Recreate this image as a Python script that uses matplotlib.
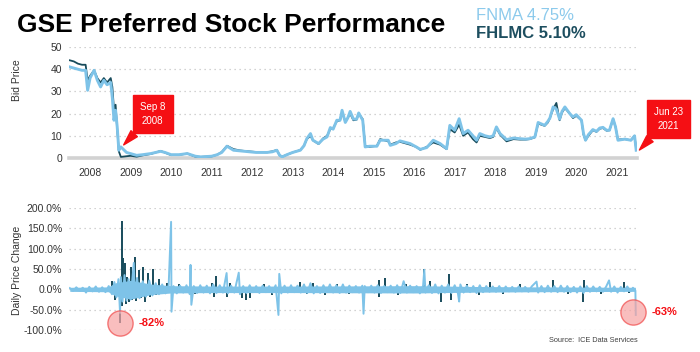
import matplotlib.pyplot as plt
from matplotlib.ticker import FuncFormatter

plt.rcParams['font.family'] = ['Liberation Sans', 'DejaVu Sans']

LIGHT = '#7ec3e8'
DARK = '#174b5b'
RED = '#f50f14'
GRID = '#c4c4c4'

# ---- bid price (decimal year, price) ----
price_t = [2007.50, 2007.60, 2007.70, 2007.80, 2007.89, 2007.94, 2008.00, 2008.10,
           2008.18, 2008.26, 2008.34, 2008.42, 2008.51, 2008.55, 2008.59, 2008.63,
           2008.67, 2008.71, 2008.76, 2008.90, 2009.00, 2009.15, 2009.30, 2009.50,
           2009.74, 2009.85, 2010.00, 2010.20, 2010.40, 2010.60, 2010.73, 2011.00,
           2011.14, 2011.25, 2011.38, 2011.54, 2011.70, 2011.90, 2012.10, 2012.37,
           2012.50, 2012.61, 2012.68, 2012.74, 2012.86, 2013.00, 2013.19, 2013.28,
           2013.35, 2013.44, 2013.50, 2013.64, 2013.75, 2013.85, 2013.93, 2014.00,
           2014.09, 2014.17, 2014.22, 2014.30, 2014.36, 2014.42, 2014.50, 2014.58,
           2014.63, 2014.73, 2014.79, 2014.90, 2015.08, 2015.16, 2015.36, 2015.41,
           2015.55, 2015.65, 2015.90, 2016.05, 2016.15, 2016.31, 2016.47, 2016.64,
           2016.80, 2016.88, 2017.00, 2017.11, 2017.21, 2017.33, 2017.45, 2017.54,
           2017.62, 2017.75, 2017.87, 2017.95, 2018.03, 2018.12, 2018.28, 2018.45,
           2018.61, 2018.75, 2018.85, 2018.98, 2019.06, 2019.22, 2019.30, 2019.35,
           2019.43, 2019.51, 2019.59, 2019.65, 2019.72, 2019.84, 2019.92, 2020.00,
           2020.13, 2020.18, 2020.23, 2020.30, 2020.41, 2020.50, 2020.58, 2020.66,
           2020.75, 2020.82, 2020.91, 2020.97, 2021.03, 2021.20, 2021.35, 2021.44,
           2021.48]
fnma_price = [41, 40.5, 40, 39.5, 39.5, 30.5, 36, 39.5,
              35, 32, 35, 33, 34, 27, 17, 21.5,
              14, 3.5, 5, 2.5, 2, 1.2, 1.5, 2,
              3, 2.5, 1.5, 1.5, 2, 0.8, 0.5, 0.8,
              1.5, 2.5, 5.3, 3.5, 3.2, 2.8, 2.5, 2.5,
              2.8, 3.5, 1.2, 0.5, 1.5, 2.5, 3.5, 5.5,
              8.7, 11, 8, 6.5, 8.5, 9.5, 13.7, 13,
              17, 17, 21.5, 16, 18, 21, 17.5, 17.5,
              20.3, 17, 5, 5.3, 5.3, 8, 8, 5.7,
              6.5, 7.7, 6.5, 5, 3.9, 4.7, 8, 6.5,
              4.2, 14.7, 12.5, 17.7, 11, 12.5, 10, 8,
              11, 10, 9.5, 10, 14, 11, 8.3, 9,
              8.7, 8.5, 8.7, 9.5, 16, 14.7, 16.5, 18,
              23, 22, 17.5, 21, 23, 20, 18.5, 19.5,
              17, 11, 8, 10.5, 12.8, 12, 13.5, 13.8,
              12.5, 12.5, 17.7, 14, 8, 8.5, 8, 10,
              3.5]
fhlmc_price = [44, 43.5, 42.5, 42, 42, 35, 37, 39.5,
               36, 34, 36, 34, 36, 32, 22, 24,
               13, 3, 0.5, 0.8, 1, 0.6, 1.2, 1.8,
               3.2, 2.4, 1.3, 1.4, 2, 0.6, 0.5, 0.7,
               1.5, 2.7, 5.5, 4, 3.4, 3, 2.7, 2.6,
               3, 3.6, 1.2, 0.6, 1.5, 2.5, 3.6, 5.5,
               8.5, 10, 8, 6.3, 8.8, 10, 13, 13.5,
               16.5, 17, 20.5, 16.5, 18, 20, 17, 17.3,
               20, 17.5, 5.5, 5, 5.5, 8.5, 7.5, 6,
               7, 7.3, 6, 5, 3.7, 5, 7, 6,
               4, 13, 11.5, 15, 10, 11.5, 8.5, 7,
               10, 9.5, 9, 9.5, 13.5, 10.5, 7.5, 8.5,
               8.3, 8.3, 8.5, 9.3, 15.5, 14.5, 16, 18,
               22, 24.8, 17, 20.5, 22.5, 20, 18, 19,
               17, 10.5, 8, 10, 12.5, 11.8, 13.2, 13.5,
               12.3, 12.5, 17.5, 14, 8.3, 8.5, 8, 10,
               4]

# ---- daily price change (%), FNMA ----
chg_t = [2007.50, 2007.58, 2007.66, 2007.74, 2007.82, 2007.90, 2007.98, 2008.06,
         2008.14, 2008.22, 2008.30, 2008.38, 2008.46, 2008.54, 2008.60, 2008.65,
         2008.70, 2008.74, 2008.76, 2008.80, 2008.85, 2008.90, 2008.95, 2009.00,
         2009.05, 2009.08, 2009.10, 2009.16, 2009.22, 2009.30, 2009.38, 2009.46,
         2009.54, 2009.62, 2009.70, 2009.78, 2009.86, 2009.94, 2010.00, 2010.01,
         2010.06, 2010.14, 2010.22, 2010.30, 2010.38, 2010.46, 2010.48, 2010.50,
         2010.56, 2010.64, 2010.72, 2010.80, 2010.88, 2010.96, 2011.04, 2011.12,
         2011.20, 2011.28, 2011.37, 2011.40, 2011.48, 2011.56, 2011.67, 2011.70,
         2011.78, 2011.86, 2011.94, 2012.02, 2012.10, 2012.18, 2012.26, 2012.34,
         2012.42, 2012.50, 2012.58, 2012.65, 2012.67, 2012.72, 2012.80, 2012.88,
         2012.96, 2013.04, 2013.12, 2013.20, 2013.28, 2013.36, 2013.44, 2013.52,
         2013.60, 2013.68, 2013.76, 2013.84, 2013.92, 2014.00, 2014.08, 2014.16,
         2014.24, 2014.32, 2014.40, 2014.48, 2014.56, 2014.64, 2014.72, 2014.75,
         2014.78, 2014.86, 2014.94, 2015.02, 2015.10, 2015.18, 2015.26, 2015.34,
         2015.42, 2015.50, 2015.58, 2015.66, 2015.74, 2015.82, 2015.90, 2015.98,
         2016.06, 2016.14, 2016.22, 2016.25, 2016.28, 2016.36, 2016.44, 2016.52,
         2016.60, 2016.68, 2016.76, 2016.84, 2016.92, 2017.00, 2017.08, 2017.11,
         2017.14, 2017.22, 2017.30, 2017.38, 2017.46, 2017.54, 2017.62, 2017.70,
         2017.78, 2017.86, 2017.94, 2018.02, 2018.10, 2018.18, 2018.26, 2018.34,
         2018.42, 2018.50, 2018.58, 2018.66, 2018.74, 2018.82, 2018.90, 2019.02,
         2019.06, 2019.14, 2019.22, 2019.30, 2019.38, 2019.46, 2019.54, 2019.62,
         2019.70, 2019.78, 2019.86, 2019.94, 2020.02, 2020.10, 2020.18, 2020.26,
         2020.34, 2020.42, 2020.50, 2020.58, 2020.66, 2020.74, 2020.81, 2020.86,
         2020.94, 2021.02, 2021.10, 2021.18, 2021.26, 2021.34, 2021.40, 2021.46,
         2021.47]
fnma_chg = [3, -4, 5, -3, 4, -8, 6, -5,
            7, -6, 5, -7, 8, -12, 18, -20,
            25, -58, 30, -30, 35, -28, 25, -25,
            30, 65, -20, 28, -22, 20, -18, 22,
            -15, 15, -12, 12, -10, 10, 166, -55,
            8, -10, 9, -8, 10, -12, 60, -38,
            8, -9, 10, -8, 9, -10, 12, -9,
            10, -8, 40, -10, 9, -8, 41, -12,
            8, -9, 10, -7, 8, -9, 9, -7,
            8, -8, 10, -63, 38, -10, 9, -8,
            10, -7, 9, -8, 12, -9, 15, -10,
            8, -9, 10, -7, 12, -8, 10, -9,
            12, -8, 9, -7, 8, -8, 9, -60,
            8, -7, 9, -8, 10, -9, 8, -7,
            9, -8, 10, -9, 20, -8, 9, -7,
            8, -10, 9, 48, -8, 10, -9, 12,
            -10, 9, -8, 12, -9, 10, -10, -30,
            12, -8, 9, -7, 8, -9, 10, -7,
            8, -6, 7, -6, 8, -6, 7, -5,
            6, -6, 7, -5, 6, -6, 7, 19,
            -8, 8, -7, 9, -6, 8, -7, 9,
            -6, 8, -7, 6, -8, 7, -9, 8,
            -6, 7, -5, 6, -6, 7, 22, -6,
            7, -8, 6, -5, 7, -5, 4, -3,
            -63]

# width of the dense day-to-day noise band (envelope)
band_t = [2007.50, 2008.45, 2008.62, 2009.00, 2009.50, 2010.00, 2011.00,
          2013.00, 2016.00, 2017.50, 2019.00, 2021.46]
band_hi = [5, 6, 16, 22, 13, 9, 8, 8, 9, 7, 6, 5]
band_lo = [-5, -6, -16, -24, -13, -9, -8, -8, -9, -7, -6, -5]

# FHLMC daily moves that stick out of the band
fhlmc_spike_t = [2008.55, 2008.62, 2008.74, 2008.78, 2008.80, 2008.82, 2008.85, 2008.88,
                 2008.92, 2008.96, 2009.00, 2009.04, 2009.10, 2009.14, 2009.20, 2009.25,
                 2009.30, 2009.36, 2009.42, 2009.48, 2009.55, 2009.62, 2009.70, 2009.78,
                 2009.90, 2010.20, 2010.60, 2011.00, 2011.05, 2011.12, 2011.38, 2011.45,
                 2011.75, 2011.85, 2011.95, 2012.30, 2012.50, 2013.19, 2013.35, 2013.50,
                 2013.80, 2014.10, 2014.40, 2015.12, 2015.13, 2015.27, 2015.60, 2015.80,
                 2016.25, 2016.40, 2016.65, 2016.87, 2016.92, 2017.30, 2017.60, 2017.87,
                 2018.20, 2018.60, 2019.43, 2019.80, 2020.17, 2020.19, 2020.60, 2021.19,
                 2021.30]
fhlmc_spike = [20, -25, -82, 169, -40, 77, 65, -35,
               31, -30, 56, -25, 80, -28, 48, -22,
               54, -30, 40, -18, 50, -15, 25, -12,
               15, 12, -12, 15, -18, 33, -18, 15,
               -22, -26, -22, 12, -15, 19, -12, 15,
               -14, 12, -12, 23, -18, 27, -15, 14,
               49, 21, -30, 38, -26, 14, -14, 19,
               -12, 12, 22, -12, -30, 23, -12, 17,
               -10]

years = list(range(2008, 2022))
price_ticks = [0, 10, 20, 30, 40, 50]
chg_ticks = [-100, -50, 0, 50, 100, 150, 200]

# callouts: (text, year, price) and circled drops: (year, pct, label)
callouts = [('Sep 8\n2008', 2008.83, 5.9), ('Jun 23\n2021', 2021.56, 3.6)]
drops = [(2008.73, -83, '-82%'), (2021.39, -56, '-63%')]

fig = plt.figure(figsize=(7, 3.52), dpi=100)
ax1 = fig.add_axes([69/700, 1-158/352, 568/700, 111/352])
ax2 = fig.add_axes([69/700, 1-330/352, 568/700, 122/352])

ax1.plot(price_t, fhlmc_price, color=DARK, lw=1.3, zorder=3)
ax1.plot(price_t, fnma_price, color=LIGHT, lw=2.1, zorder=4)

ax2.vlines(fhlmc_spike_t, 0, fhlmc_spike, color=DARK, lw=1.4, zorder=3)
ax2.fill_between(band_t, band_lo, band_hi, color=LIGHT, lw=0, zorder=4)
ax2.plot(chg_t, fnma_chg, color=LIGHT, lw=1.4, zorder=4)

for ax in (ax1, ax2):
    ax.set_xlim(2007.48, 2021.5)
    for s in ax.spines.values():
        s.set_visible(False)
    ax.tick_params(length=0, labelsize=7.5, colors='#333333', pad=5)
    ax.grid(axis='y', ls=(0, (1, 3)), color=GRID, lw=0.9)
    ax.set_axisbelow(True)

ax1.set_ylim(0, 50)
ax1.set_yticks(price_ticks)
ax1.spines['bottom'].set_visible(True)
ax1.spines['bottom'].set_color('#d2d2d2')
ax1.spines['bottom'].set_linewidth(2.6)
ax1.set_xticks(years)
ax1.set_xticklabels([str(y) for y in years])
ax1.tick_params(axis='x', pad=7)
ax1.set_ylabel('Bid Price', fontsize=7.5, color='#333333')
ax1.yaxis.set_label_coords(-0.082, 0.70)

ax2.set_ylim(-100, 200)
ax2.set_yticks(chg_ticks)
ax2.yaxis.set_major_formatter(FuncFormatter(lambda v, p: f'{v:.1f}%'))
ax2.set_xticks([])
ax2.set_ylabel('Daily Price Change', fontsize=7.5, color='#333333')
ax2.yaxis.set_label_coords(-0.083, 0.49)

for txt, x, y in callouts:
    ax1.annotate(txt, xy=(x, y), xytext=(29, 31), textcoords='offset pixels',
                 ha='center', va='center', color='white', fontsize=7,
                 linespacing=1.5,
                 bbox=dict(boxstyle='square,pad=0.75', fc=RED, ec=RED),
                 arrowprops=dict(arrowstyle='wedge,tail_width=0.9', fc=RED, ec=RED,
                                 shrinkA=0, shrinkB=0),
                 annotation_clip=False, zorder=6)

for x, y, lab in drops:
    ax2.scatter([x], [y], s=330, facecolor='#f7a3a3', edgecolor='#f04848',
                alpha=0.7, lw=1.0, zorder=5, clip_on=False)
    ax2.annotate(lab, xy=(x, y), xytext=(19, 0), textcoords='offset pixels',
                 ha='left', va='center', color=RED, fontsize=8, fontweight='bold',
                 annotation_clip=False)

fig.text(17/700, 1-32/352, 'GSE Preferred Stock Performance', fontsize=19,
         fontweight='bold', color='black', va='baseline')
fig.text(476/700, 1-19.5/352, 'FNMA 4.75%', fontsize=12, color='#8ccaec', va='baseline')
fig.text(476/700, 1-38.5/352, 'FHLMC 5.10%', fontsize=12, color='#1d4e5f',
         fontweight='bold', va='baseline')
fig.text(638/700, 1-340/352, 'Source:  ICE Data Services', fontsize=5.3,
         color='#404040', ha='right', va='center')

fig.savefig('out.png', dpi=100)
